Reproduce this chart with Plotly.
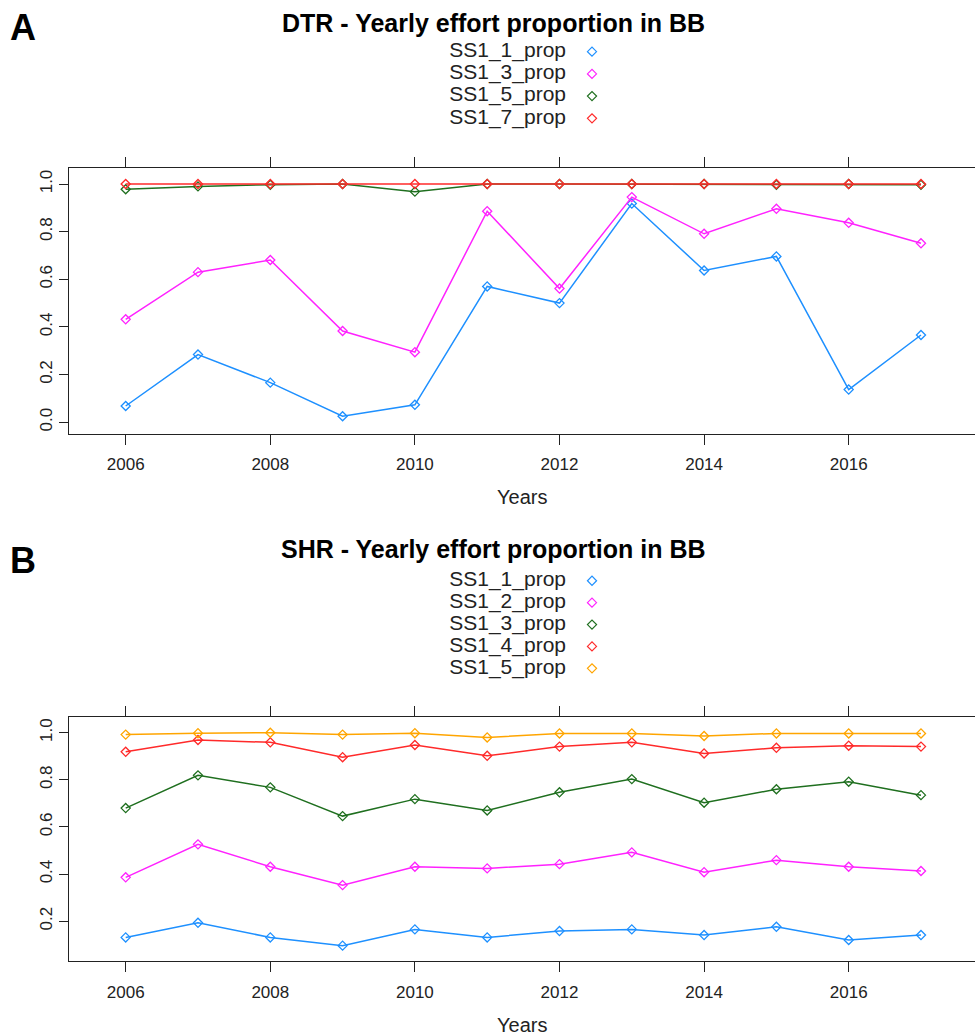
import plotly.graph_objects as go

years = list(range(2006, 2018))

# Panel A: DTR
dtr_names = ["SS1_1_prop", "SS1_3_prop", "SS1_5_prop", "SS1_7_prop"]
dtr_ss1_1 = [0.068, 0.284, 0.166, 0.025, 0.073, 0.570, 0.500, 0.918, 0.637, 0.696, 0.137, 0.366]
dtr_ss1_3 = [0.432, 0.630, 0.681, 0.383, 0.294, 0.886, 0.561, 0.945, 0.791, 0.896, 0.837, 0.751]
dtr_ss1_5 = [0.978, 0.990, 0.997, 1.000, 0.968, 1.000, 1.000, 1.000, 1.000, 0.997, 1.000, 0.997]
dtr_ss1_7 = [1.000, 1.000, 1.000, 1.000, 1.000, 1.000, 1.000, 1.000, 1.000, 1.000, 1.000, 1.000]

# Panel B: SHR
shr_names = ["SS1_1_prop", "SS1_2_prop", "SS1_3_prop", "SS1_4_prop", "SS1_5_prop"]
shr_ss1_1 = [0.131, 0.193, 0.131, 0.096, 0.165, 0.131, 0.158, 0.165, 0.141, 0.176, 0.120, 0.141]
shr_ss1_2 = [0.386, 0.526, 0.431, 0.353, 0.431, 0.424, 0.442, 0.492, 0.408, 0.459, 0.431, 0.413]
shr_ss1_3 = [0.680, 0.819, 0.768, 0.646, 0.718, 0.670, 0.747, 0.803, 0.703, 0.760, 0.792, 0.735]
shr_ss1_4 = [0.919, 0.969, 0.959, 0.896, 0.948, 0.902, 0.941, 0.959, 0.912, 0.936, 0.945, 0.941]
shr_ss1_5 = [0.992, 0.998, 1.000, 0.992, 0.998, 0.980, 0.997, 0.997, 0.986, 0.997, 0.997, 0.997]

x_ticks = [2006, 2008, 2010, 2012, 2014, 2016]
y_ticks_a = [0.0, 0.2, 0.4, 0.6, 0.8, 1.0]
y_ticks_b = [0.2, 0.4, 0.6, 0.8, 1.0]

col_blue = "#1E90FF"
col_mag = "#FF22FF"
col_green = "#1F6F1F"
col_red = "#FF2A2A"
col_orange = "#FFA500"

dtr_colors = [col_blue, col_mag, col_green, col_red]
shr_colors = [col_blue, col_mag, col_green, col_red, col_orange]

W, H = 975, 1036
FONT = "Liberation Sans, Arial, sans-serif"
TXT = "#222222"

fig = go.Figure()


def add_series(xaxis, yaxis, ys, name, color):
    fig.add_trace(go.Scatter(
        x=years, y=ys, mode="lines+markers", name=name,
        line=dict(color=color, width=1.5),
        marker=dict(symbol="diamond-open", size=7, color=color, line=dict(width=1.3, color=color)),
        xaxis=xaxis, yaxis=yaxis, showlegend=False,
    ))


def add_key(names, colors, xaxis, yaxis):
    # legend block: label text, then a marker to its right
    fig.add_trace(go.Scatter(
        x=[0] * len(names), y=names, mode="text", text=names, textposition="middle left",
        textfont=dict(family=FONT, size=21, color=TXT), cliponaxis=False,
        xaxis=xaxis, yaxis=yaxis, showlegend=False, hoverinfo="skip",
    ))
    fig.add_trace(go.Scatter(
        x=[1] * len(names), y=names, mode="markers", cliponaxis=False,
        marker=dict(symbol="diamond-open", size=7, color=colors, line=dict(width=1.2, color=colors)),
        xaxis=xaxis, yaxis=yaxis, showlegend=False, hoverinfo="skip",
    ))


for ys, nm, c in zip([dtr_ss1_1, dtr_ss1_3, dtr_ss1_5, dtr_ss1_7], dtr_names, dtr_colors):
    add_series("x", "y", ys, nm, c)

for ys, nm, c in zip([shr_ss1_1, shr_ss1_2, shr_ss1_3, shr_ss1_4, shr_ss1_5], shr_names, shr_colors):
    add_series("x2", "y2", ys, nm, c)

add_key(dtr_names, dtr_colors, "x3", "y3")
add_key(shr_names, shr_colors, "x4", "y4")


def px_x(p):
    return p / W


def px_y(p):
    return 1 - p / H


xdom = [px_x(69.3), 1.0]
ydom_a = [px_y(433.5), px_y(168.3)]
ydom_b = [px_y(961.2), px_y(716.7)]

xaxis_common = dict(
    range=[2005.22, 2017.747], tickvals=x_ticks, ticktext=[str(v) for v in x_ticks],
    showline=True, linecolor=TXT, linewidth=1.3, mirror="ticks",
    ticks="outside", ticklen=10, tickwidth=1.3, tickcolor=TXT,
    showgrid=False, zeroline=False, ticklabelstandoff=5,
    tickfont=dict(family=FONT, size=17, color=TXT),
    domain=xdom,
)
yaxis_common = dict(
    showline=True, linecolor=TXT, linewidth=1.3, mirror=False,
    ticks="outside", ticklen=9, tickwidth=1.3, tickcolor=TXT,
    showgrid=False, zeroline=False, tickangle=-90, tickformat=".1f",
    tickfont=dict(family=FONT, size=17, color=TXT),
)
hidden = dict(visible=False, showgrid=False, zeroline=False, fixedrange=True)

fig.update_layout(
    width=W, height=H,
    margin=dict(l=0, r=0, t=0, b=0),
    paper_bgcolor="white", plot_bgcolor="rgba(0,0,0,0)",
    showlegend=False,
    xaxis=dict(**xaxis_common, anchor="y"),
    yaxis=dict(**yaxis_common, domain=ydom_a, range=[-0.0475, 1.066], tickvals=y_ticks_a, anchor="x"),
    xaxis2=dict(**xaxis_common, anchor="y2"),
    yaxis2=dict(**yaxis_common, domain=ydom_b, range=[0.030, 1.068], tickvals=y_ticks_b, anchor="x2"),
    # legend key axes
    xaxis3=dict(**hidden, domain=[px_x(540), px_x(618)], range=[-1, 2], anchor="y3"),
    yaxis3=dict(**hidden, domain=[px_y(129.4), px_y(40.6)], type="category",
                categoryorder="array", categoryarray=dtr_names,
                range=[len(dtr_names) - 0.5, -0.5], anchor="x3"),
    xaxis4=dict(**hidden, domain=[px_x(540), px_x(618)], range=[-1, 2], anchor="y4"),
    yaxis4=dict(**hidden, domain=[px_y(679.3), px_y(569.8)], type="category",
                categoryorder="array", categoryarray=shr_names,
                range=[len(shr_names) - 0.5, -0.5], anchor="x4"),
)

annots = [
    dict(text="<b>DTR - Yearly effort proportion in BB</b>", x=px_x(493.5), y=px_y(23),
         font=dict(family=FONT, size=25, color="black")),
    dict(text="<b>SHR - Yearly effort proportion in BB</b>", x=px_x(493.5), y=px_y(549),
         font=dict(family=FONT, size=25, color="black")),
    dict(text="<b>A</b>", x=px_x(23), y=px_y(27), font=dict(family=FONT, size=36, color="black")),
    dict(text="<b>B</b>", x=px_x(23), y=px_y(560), font=dict(family=FONT, size=36, color="black")),
    dict(text="Years", x=px_x(522), y=px_y(497), font=dict(family=FONT, size=20, color=TXT)),
    dict(text="Years", x=px_x(522), y=px_y(1025), font=dict(family=FONT, size=20, color=TXT)),
]
for a in annots:
    fig.add_annotation(xref="paper", yref="paper", showarrow=False,
                       xanchor="center", yanchor="middle", **a)

fig.write_html("out.html", config={"displayModeBar": False},
               post_script="document.body.style.margin='0px';")
